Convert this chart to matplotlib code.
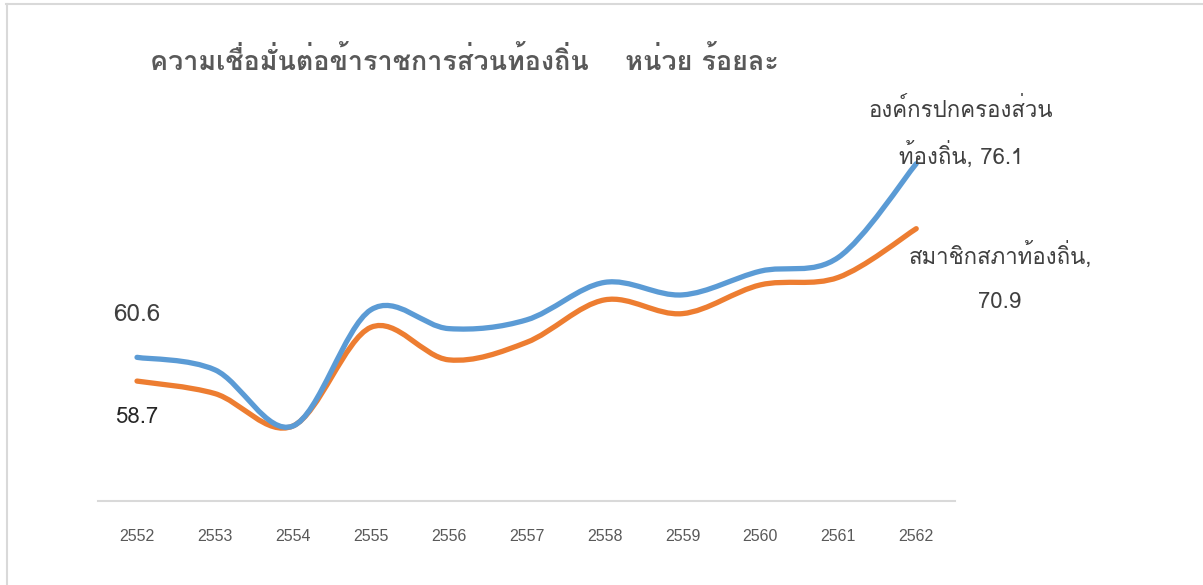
import numpy as np
import matplotlib
matplotlib.use("Agg")
import matplotlib.pyplot as plt
from matplotlib.path import Path
from matplotlib.patches import PathPatch
from matplotlib.lines import Line2D

# ปี พ.ศ. และค่าร้อยละความเชื่อมั่น
ปี = ["2552", "2553", "2554", "2555", "2556", "2557", "2558", "2559", "2560", "2561", "2562"]
องค์กร = [60.6, 59.6, 55.1, 64.4, 62.9, 63.6, 66.6, 65.6, 67.5, 68.6, 76.1]
สมาชิก = [58.7, 57.7, 55.1, 63.0, 60.4, 61.8, 65.2, 64.1, 66.4, 67.0, 70.9]

# Loma วางสระบน/วรรณยุกต์ซ้อนได้ถูกต้องโดยไม่ต้องใช้ shaping
ฟอนต์ไทย = ["Loma", "DejaVu Sans"]


# เส้นโค้งแบบ Catmull-Rom ต่อด้วย Bezier (คล้ายเส้นเรียบของ Excel)
def เส้นเรียบ(xs, ys):
    p = np.column_stack([xs, ys]).astype(float)
    n = len(p)
    verts = [p[0]]
    codes = [Path.MOVETO]
    for i in range(n - 1):
        p0 = p[i - 1] if i > 0 else p[i]
        p3 = p[i + 2] if i + 2 < n else p[i + 1]
        c1 = p[i] + (p[i + 1] - p0) / 6
        c2 = p[i + 1] - (p3 - p[i]) / 6
        verts += [c1, c2, p[i + 1]]
        codes += [Path.CURVE4] * 3
    return Path(verts, codes)


fig = plt.figure(figsize=(12.03, 5.85), dpi=100)
ax = fig.add_axes([0.0815, 0.1436, 0.7125, 0.7025])

x = np.arange(len(ปี))
for ys, สี in [(สมาชิก, "#ED7D31"), (องค์กร, "#5B9BD5")]:
    ax.add_patch(PathPatch(เส้นเรียบ(x, ys), facecolor="none", edgecolor=สี,
                           lw=3.8, capstyle="round", joinstyle="round"))

ax.set_xlim(-0.5, 10.5)
ax.set_ylim(49.1, 82)
ax.set_yticks([])
ax.set_xticks(x)
ax.set_xticklabels(ปี, family=["Liberation Sans Narrow", "Liberation Sans"],
                   fontsize=11.5, color="#595959")
ax.tick_params(axis="x", length=0, pad=20)
for s in ["top", "right", "left"]:
    ax.spines[s].set_visible(False)
ax.spines["bottom"].set_color("#d9d9d9")
ax.spines["bottom"].set_linewidth(1.5)

# ป้ายข้อมูล
ax.annotate(f"{องค์กร[0]}", (0, องค์กร[0]), xytext=(0, 31), textcoords="offset points",
            ha="center", va="center", fontsize=17.5, color="#404040", family=ฟอนต์ไทย)
ax.annotate(f"{สมาชิก[0]}", (0, สมาชิก[0]), xytext=(0, -26), textcoords="offset points",
            ha="center", va="center", fontsize=16, color="#262626", family=ฟอนต์ไทย)
ax.annotate(f"องค์กรปกครองส่วน\nท้องถิ่น, {องค์กร[-1]}", (10, องค์กร[-1]),
            xytext=(32, 22), textcoords="offset points", ha="center", va="center",
            fontsize=16, color="#404040", family=ฟอนต์ไทย, linespacing=1.9,
            annotation_clip=False)
ax.annotate("สมาชิกสภาท้องถิ่น,", (10, สมาชิก[-1]),
            xytext=(61, -19), textcoords="offset points", ha="center", va="center",
            fontsize=16, color="#404040", family=ฟอนต์ไทย, annotation_clip=False)
ax.annotate(f"{สมาชิก[-1]}", (10, สมาชิก[-1]),
            xytext=(60, -53), textcoords="offset points", ha="center", va="center",
            fontsize=16, color="#404040", family=ฟอนต์ไทย, annotation_clip=False)

fig.text(0.1247, 0.897, "ความเชื่อมั่นต่อข้าราชการส่วนท้องถิ่น    หน่วย ร้อยละ",
         fontsize=19.4, fontweight="bold", color="#595959", family=ฟอนต์ไทย,
         ha="left", va="center")

# กรอบแผนภูมิ
fig.add_artist(Line2D([0.005, 1.0], [0.993, 0.993], color="#d9d9d9", lw=1.5))
fig.add_artist(Line2D([0.006, 0.006], [0.0, 0.993], color="#d9d9d9", lw=1.5))

fig.savefig("out.png", dpi=100)
